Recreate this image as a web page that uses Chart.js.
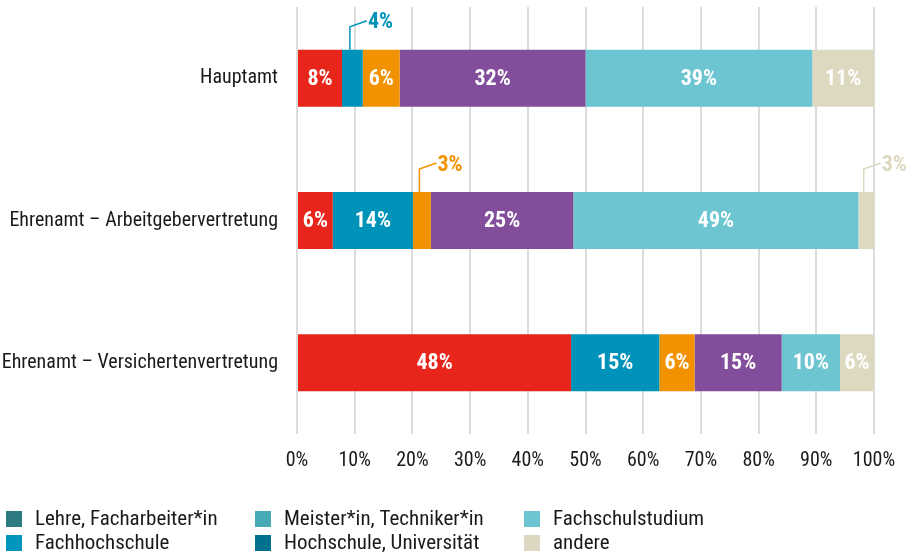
<!DOCTYPE html>
<html>
<head>
<meta charset="utf-8">
<script src="https://cdn.jsdelivr.net/npm/chart.js@4/dist/chart.umd.min.js"></script>
<style>
  html, body { margin: 0; padding: 0; background: #fff; }
  #wrap { width: 921px; height: 555px; }
</style>
</head>
<body>
<div id="wrap"><canvas id="chart" width="921" height="555"></canvas></div>
<script>
const categories = ['Hauptamt', 'Ehrenamt – Arbeitgebervertretung', 'Ehrenamt – Versichertenvertretung'];

// Segment values in percent, per category (same order as categories)
const lehre = [7.8, 6.2, 47.5];
const fachhochschule = [3.6, 13.9, 15.3];
const meister = [6.4, 3.1, 6.1];
const hochschule = [32.2, 24.7, 15.1];
const fachschulstudium = [39.3, 49.4, 10.1];
const andere = [10.7, 2.7, 5.9];

const seriesNames = ['Lehre, Facharbeiter*in', 'Fachhochschule', 'Meister*in, Techniker*in',
  'Hochschule, Universität', 'Fachschulstudium', 'andere'];
const seriesValues = [lehre, fachhochschule, meister, hochschule, fachschulstudium, andere];
const barColors = ['#e8251a', '#0093ba', '#f39200', '#824d9b', '#6dc5d1', '#ddd8c0'];
const legendColors = ['#2e7a82', '#0095bd', '#45a9b6', '#00718f', '#6ec5d2', '#ddd7c1'];
const xTicks = [0, 10, 20, 30, 40, 50, 60, 70, 80, 90, 100];

const FONT = "'Roboto Condensed', 'DejaVu Sans Condensed', sans-serif";
Chart.defaults.font.family = FONT;
Chart.defaults.color = '#1a1a1a';

// labels inside the bars, small ones get a callout above
const barLabels = {
  id: 'barLabels',
  afterDatasetsDraw(chart) {
    const ctx = chart.ctx;
    ctx.save();
    ctx.font = 'bold 22px ' + FONT;
    chart.data.datasets.forEach((ds, i) => {
      const meta = chart.getDatasetMeta(i);
      meta.data.forEach((bar, j) => {
        const v = ds.data[j];
        const txt = Math.round(v) + '%';
        const cx = (bar.x + bar.base) / 2;
        if (v >= 5) {
          ctx.fillStyle = '#fff';
          ctx.textAlign = 'center';
          ctx.textBaseline = 'middle';
          ctx.fillText(txt, cx, bar.y + 1);
        } else {
          const top = bar.y - bar.height / 2;
          const lx = cx - 2.5;
          const ly = top - 23;
          ctx.strokeStyle = ds.backgroundColor;
          ctx.lineWidth = 1.5;
          ctx.beginPath();
          ctx.moveTo(lx, top);
          ctx.lineTo(lx, ly);
          ctx.lineTo(lx + 17, ly - 6);
          ctx.stroke();
          ctx.fillStyle = ds.backgroundColor;
          ctx.textAlign = 'left';
          ctx.textBaseline = 'middle';
          ctx.fillText(txt, lx + 18, ly - 4);
        }
      });
    });
    ctx.restore();
  }
};

// legend in three columns at the bottom
const gridLegend = {
  id: 'gridLegend',
  afterDraw(chart) {
    const ctx = chart.ctx;
    const colX = [6, 255, 524];
    const rowY = [519, 543];
    ctx.save();
    ctx.font = '21px ' + FONT;
    ctx.textAlign = 'left';
    ctx.textBaseline = 'middle';
    seriesNames.forEach((name, i) => {
      const x = colX[Math.floor(i / 2)];
      const y = rowY[i % 2];
      ctx.fillStyle = legendColors[i];
      ctx.fillRect(x, y - 8, 16, 16);
      ctx.fillStyle = '#1a1a1a';
      ctx.fillText(name, x + 29, y + 1);
    });
    ctx.restore();
  }
};

new Chart(document.getElementById('chart'), {
  type: 'bar',
  data: {
    labels: categories,
    datasets: seriesValues.map((vals, i) => ({
      label: seriesNames[i],
      data: vals,
      backgroundColor: barColors[i],
      borderWidth: 0,
      categoryPercentage: 1,
      barPercentage: 0.4,
    })),
  },
  options: {
    indexAxis: 'y',
    responsive: false,
    animation: false,
    layout: { padding: { top: 7, left: 0, right: 47, bottom: 71 } },
    plugins: {
      legend: { display: false },
      tooltip: { enabled: false },
    },
    scales: {
      x: {
        stacked: true,
        min: 0,
        max: 100,
        afterBuildTicks: (axis) => { axis.ticks = xTicks.map((v) => ({ value: v })); },
        afterFit: (axis) => { axis.height = 50; axis.paddingLeft = 0; axis.paddingRight = 0; },
        border: { display: false },
        grid: { color: '#dcdcdc', lineWidth: 2, drawTicks: false },
        ticks: {
          padding: 15,
          font: { size: 20 },
          color: '#1a1a1a',
          callback: (v) => v + '%',
        },
      },
      y: {
        stacked: true,
        afterFit: (axis) => { axis.width = 297; axis.paddingTop = 0; axis.paddingBottom = 0; },
        border: { display: false },
        grid: { display: false, drawTicks: false },
        ticks: { padding: 19, font: { size: 20 }, color: '#1a1a1a' },
      },
    },
  },
  plugins: [barLabels, gridLegend],
});
</script>
</body>
</html>
